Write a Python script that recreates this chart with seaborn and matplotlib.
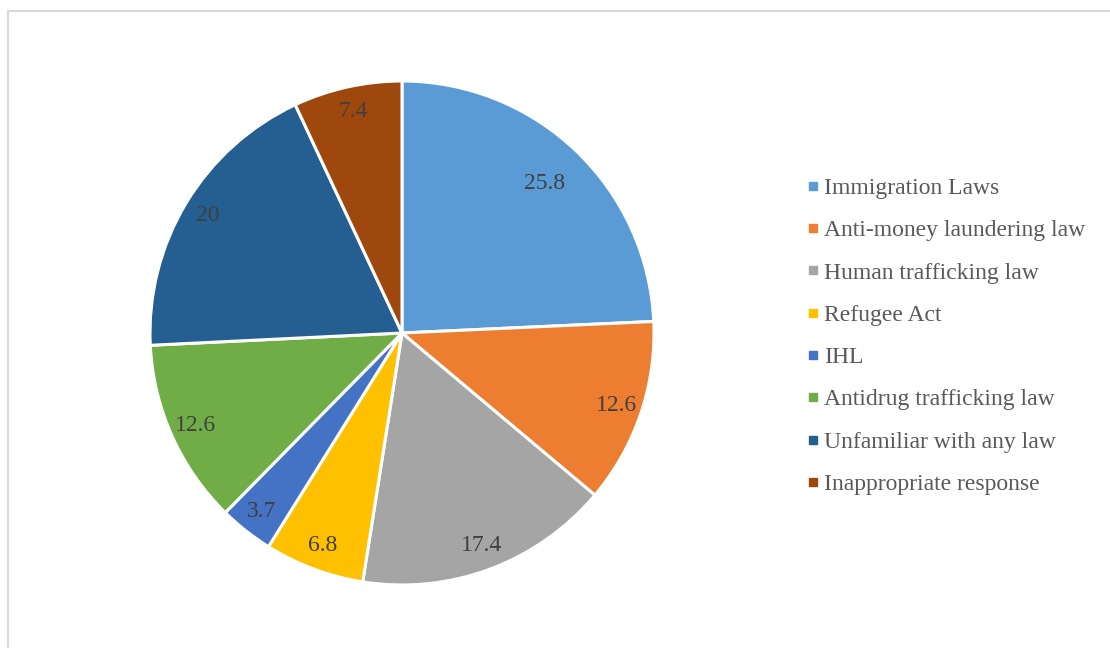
import matplotlib
matplotlib.use("Agg")
import matplotlib.pyplot as plt
from matplotlib.lines import Line2D
import seaborn as sns

categories = ["Immigration Laws", "Anti-money laundering law", "Human trafficking law",
              "Refugee Act", "IHL", "Antidrug trafficking law",
              "Unfamiliar with any law", "Inappropriate response"]
values = [25.8, 12.6, 17.4, 6.8, 3.7, 12.6, 20, 7.4]
value_labels = ["25.8", "12.6", "17.4", "6.8", "3.7", "12.6", "20", "7.4"]
colors = ["#5B9BD5", "#ED7D31", "#A5A5A5", "#FFC000",
          "#4472C4", "#70AD47", "#255E91", "#9E480E"]

sns.set_theme(style="white")
plt.rcParams['font.family'] = ['Liberation Serif', 'DejaVu Serif']

palette = sns.color_palette(colors)

fig = plt.figure(figsize=(11.1, 6.48), dpi=100)
fig.patch.set_facecolor("white")

# thin grey frame along top and left like the source
fig.add_artist(Line2D([8/1110, 1], [1 - 11/648, 1 - 11/648], transform=fig.transFigure,
                      color="#d9d9d9", lw=1.5))
fig.add_artist(Line2D([8/1110, 8/1110], [0, 1 - 11/648], transform=fig.transFigure,
                      color="#d9d9d9", lw=1.5))

ax = fig.add_axes([150/1110, 63/648, 504/1110, 504/648])
it = iter(value_labels)
wedges, texts, autotexts = ax.pie(values, colors=palette, startangle=90, counterclock=False,
                                  radius=1, autopct=lambda p: next(it), pctdistance=0.9,
                                  wedgeprops=dict(edgecolor="white", linewidth=2.2),
                                  textprops=dict(color="#404040", fontsize=17))
# big first slice has its label pulled a bit inward
x0, y0 = autotexts[0].get_position()
autotexts[0].set_position((x0 * 0.82 / 0.9, y0 * 0.82 / 0.9))
ax.set_xlim(-1, 1)
ax.set_ylim(-1, 1)
ax.set_aspect("equal")

handles = [Line2D([], [], marker="s", linestyle="", markersize=6, color=c) for c in palette]
leg = fig.legend(handles, categories, loc="upper left", bbox_to_anchor=(796/1110, 1 - 168/648),
                 frameon=False, fontsize=17, labelcolor="#595959", handlelength=0.6,
                 handletextpad=0.2, labelspacing=0.88, borderaxespad=0)

plt.savefig("out.png", dpi=100)
